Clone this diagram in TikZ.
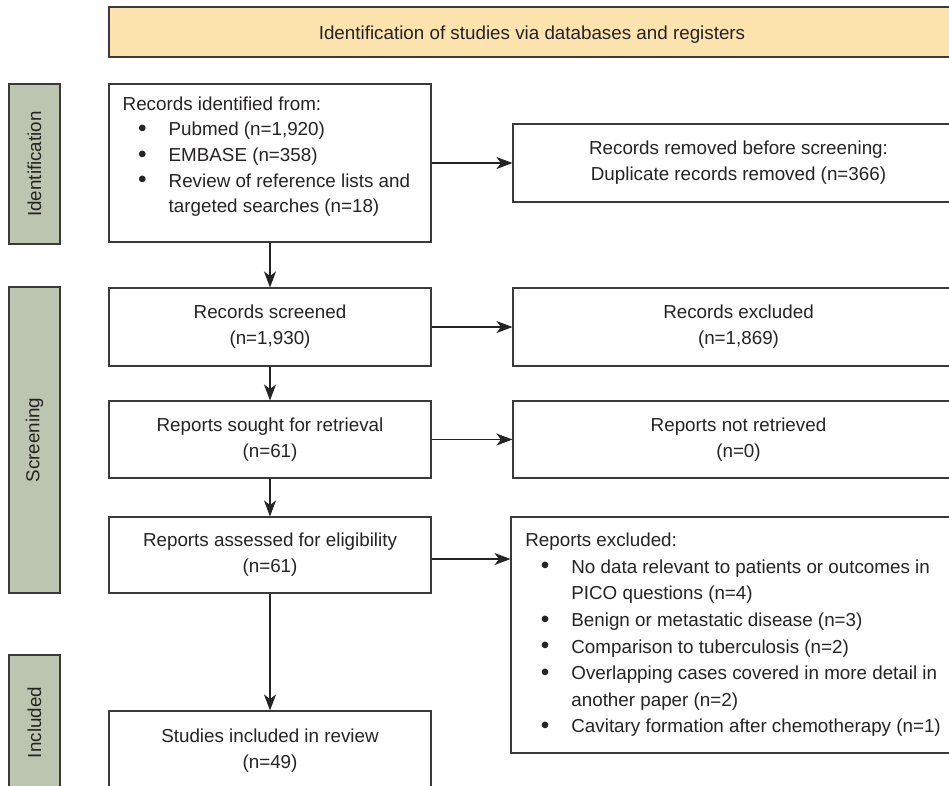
\documentclass[tikz,border=0pt]{standalone}
\usepackage{fontspec}
\usepackage{graphicx}
\setmainfont{Liberation Sans}
\usetikzlibrary{arrows.meta,calc}
\definecolor{hdrfill}{HTML}{FDE3AE}
\definecolor{barfill}{HTML}{BBC5B0}
\definecolor{edgecol}{HTML}{3A3A3A}
\definecolor{inkcol}{HTML}{262324}
\newcommand{\bul}[1]{\makebox[46pt][l]{\hspace*{15.5pt}\raisebox{-0.6pt}{\scalebox{1.3}{\textbullet}}}#1}
\newcommand{\cnt}[1]{\hspace*{46pt}#1}
\tikzset{
  basefont/.style={font={\fontsize{18.8}{26.2}\selectfont}, text=inkcol},
  box/.style={draw=edgecol, line width=1.1pt, fill=white, inner sep=0pt, basefont, align=center},
  hdrbox/.style={box, fill=hdrfill},
  sidebar/.style={draw=edgecol, line width=1.1pt, fill=barfill, inner sep=0pt},
  barlabel/.style={basefont, rotate=90, inner sep=0pt},
  listtext/.style={inner sep=0pt, align=left, anchor=north west, text=inkcol},
  flow/.style={draw=inkcol, line width=1.1pt, -{Stealth[length=16pt,width=12pt,inset=4.5pt]}}
}
\begin{document}
\begin{tikzpicture}[x=1pt,y=-1pt]
\useasboundingbox (0,0) rectangle (949,785);
\clip (0,0) rectangle (949,785);
\fill[white] (0,0) rectangle (949,785);

% header
\node[hdrbox, minimum width=846, minimum height=50] (hdr) at (532,32) {};
\node[basefont, inner sep=0pt] (hdrt) at ([yshift=-2.5pt]hdr.center) {Identification of studies via databases and registers};

% side bars
\node[sidebar, minimum width=51, minimum height=160] (idbar) at (34.5,164) {};
\node[barlabel] (idlbl) at (idbar.center) {Identification};
\node[sidebar, minimum width=51, minimum height=306] (scbar) at (34.5,440) {};
\node[barlabel] (sclbl) at (scbar.center) {Screening};
\node[sidebar, minimum width=51, minimum height=135] (inbar) at (34.5,722.5) {};
\node[barlabel] (inlbl) at (inbar.center) {Included};

% left column
\node[box, minimum width=322, minimum height=158] (b1) at (270,163) {};
\node[listtext, font={\fontsize{18.8}{25.7}\selectfont}] (b1t) at (122.5,96.3) {Records identified from:\\
\bul{Pubmed (n=1,920)}\\
\bul{EMBASE (n=358)}\\
\bul{Review of reference lists and}\\
\cnt{targeted searches (n=18)}};

\node[box, minimum width=322, minimum height=78] (scr) at (270,327) {Records screened\\(n=1,930)};
\node[box, minimum width=322, minimum height=77] (ret) at (270,439.5) {Reports sought for retrieval\\(n=61)};
\node[box, minimum width=322, minimum height=76] (elig) at (270,555) {Reports assessed for eligibility\\(n=61)};
\node[box, minimum width=322, minimum height=79] (stud) at (270,750.5) {Studies included in review\\(n=49)};

% right column
\node[box, minimum width=451, minimum height=78] (rem) at (738.5,163) {Records removed before screening:\\Duplicate records removed (n=366)};
\node[box, minimum width=451, minimum height=78] (exc) at (738.5,327) {Records excluded\\(n=1,869)};
\node[box, minimum width=451, minimum height=77] (nret) at (738.5,439.5) {Reports not retrieved\\(n=0)};
\node[box, minimum width=453, minimum height=236] (rex) at (737.5,635) {};
\node[listtext, font={\fontsize{18.8}{26.6}\selectfont}] (rext) at (525.2,532.9) {Reports excluded:\\
\bul{No data relevant to patients or outcomes in}\\
\cnt{PICO questions (n=4)}\\
\bul{Benign or metastatic disease (n=3)}\\
\bul{Comparison to tuberculosis (n=2)}\\
\bul{Overlapping cases covered in more detail in}\\
\cnt{another paper (n=2)}\\
\bul{Cavitary formation after chemotherapy (n=1)}};

% connectors
\draw[flow] (b1) -- (scr);
\draw[flow] (scr) -- (ret);
\draw[flow] (ret) -- (elig);
\draw[flow] (elig) -- (stud);
\draw[flow] (b1.east) -- (rem.west);
\draw[flow] (scr.east) -- (exc.west);
\draw[flow] (ret.east) -- (nret.west);
\draw[flow] ([yshift=-4pt]elig.east) -- ([yshift=-4pt]elig.east -| rex.west);
\end{tikzpicture}
\end{document}
